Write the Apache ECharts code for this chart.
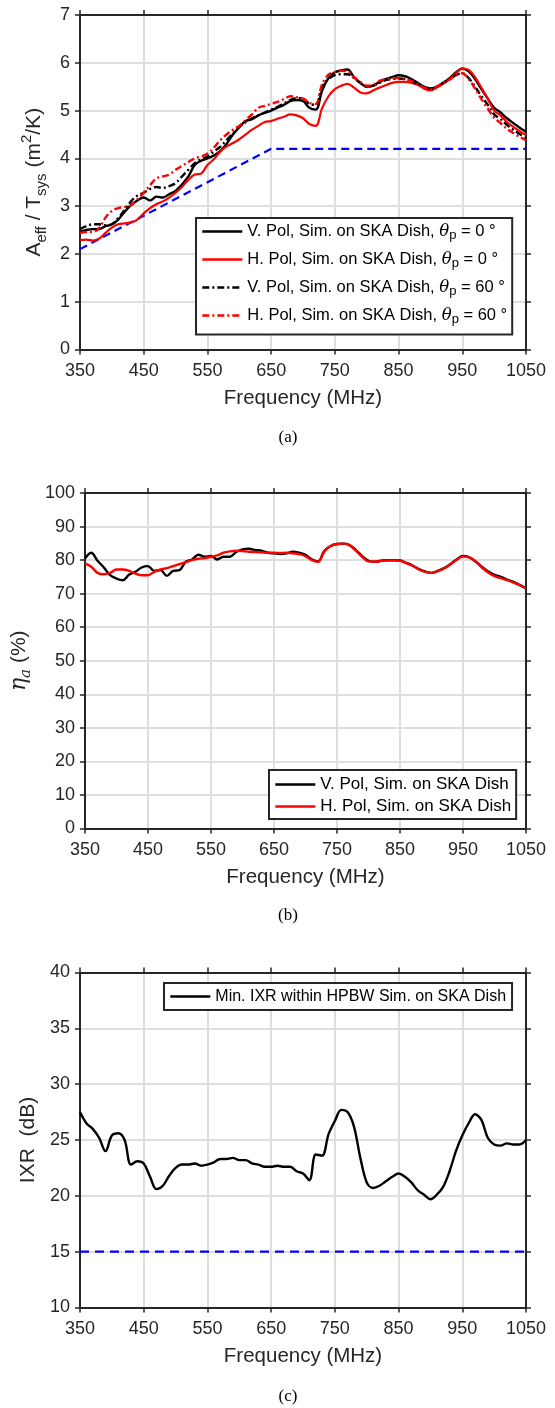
<!DOCTYPE html>
<html><head><meta charset="utf-8">
<script src="https://cdn.jsdelivr.net/npm/echarts@6/dist/echarts.min.js"></script>
<style>html,body{margin:0;padding:0;background:#fff}#c{width:555px;height:1408px}</style>
</head><body><div id="c"></div>
<script>
const freq = [350,360,370,380,390,400,410,420,430,440,450,460,470,480,490,500,510,520,530,540,550,560,570,580,590,600,610,620,630,640,650,660,670,680,690,700,710,720,730,740,750,760,770,780,790,800,810,820,830,840,850,860,870,880,890,900,910,920,930,940,950,960,970,980,990,1000,1010,1020,1030,1040,1050];

// (a) Aeff/Tsys (m^2/K)
const aV0 = [2.46,2.50,2.52,2.52,2.58,2.62,2.72,2.88,3.02,3.12,3.18,3.12,3.20,3.18,3.25,3.32,3.45,3.62,3.86,3.95,4.00,4.06,4.15,4.30,4.50,4.65,4.78,4.82,4.90,4.95,5.00,5.06,5.12,5.20,5.22,5.20,5.06,5.02,5.42,5.68,5.80,5.84,5.86,5.70,5.58,5.50,5.52,5.60,5.66,5.70,5.74,5.72,5.66,5.58,5.50,5.46,5.50,5.58,5.68,5.80,5.88,5.82,5.66,5.45,5.25,5.06,4.96,4.84,4.74,4.64,4.56];
const aH0 = [2.29,2.30,2.28,2.32,2.44,2.55,2.62,2.64,2.66,2.72,2.85,2.96,3.04,3.10,3.18,3.28,3.40,3.55,3.66,3.68,3.86,3.98,4.14,4.25,4.32,4.40,4.50,4.60,4.68,4.76,4.78,4.83,4.87,4.92,4.90,4.84,4.72,4.68,5.05,5.30,5.45,5.52,5.56,5.48,5.38,5.36,5.42,5.48,5.53,5.58,5.60,5.60,5.58,5.54,5.46,5.42,5.48,5.56,5.66,5.78,5.88,5.85,5.70,5.48,5.25,5.00,4.90,4.76,4.66,4.57,4.49];
const aV60 = [2.52,2.58,2.62,2.62,2.60,2.62,2.75,2.92,3.10,3.22,3.28,3.36,3.40,3.38,3.42,3.48,3.62,3.76,3.90,3.98,4.04,4.14,4.24,4.38,4.52,4.66,4.76,4.84,4.90,4.96,5.02,5.08,5.15,5.22,5.26,5.25,5.14,5.12,5.50,5.66,5.74,5.76,5.76,5.68,5.58,5.50,5.52,5.58,5.64,5.66,5.67,5.66,5.62,5.56,5.50,5.46,5.50,5.58,5.65,5.74,5.78,5.68,5.50,5.30,5.12,4.92,4.82,4.70,4.60,4.51,4.43];
const aH60 = [2.44,2.46,2.46,2.54,2.76,2.90,2.96,2.98,3.02,3.14,3.28,3.44,3.58,3.62,3.66,3.76,3.84,3.92,4.00,4.04,4.10,4.22,4.38,4.50,4.60,4.68,4.80,4.92,5.06,5.10,5.14,5.18,5.24,5.30,5.28,5.25,5.16,5.14,5.55,5.75,5.81,5.83,5.82,5.70,5.60,5.52,5.54,5.62,5.66,5.68,5.68,5.66,5.62,5.56,5.48,5.44,5.50,5.58,5.65,5.74,5.78,5.66,5.46,5.24,5.04,4.85,4.74,4.62,4.53,4.45,4.38];
const aReqF = [350,650,1050];
const aReqV = [2.1,4.2,4.2];

// (b) aperture efficiency (%)
const bV = [80.5,82.2,79.8,77.8,75.5,74.5,74.0,75.6,76.5,77.8,78.2,76.8,77.0,75.3,76.8,77.0,79.5,80.2,81.6,81.0,81.2,80.2,81.0,81.0,82.4,83.2,83.4,83.0,82.8,82.2,82.0,81.8,82.0,82.5,82.2,81.6,80.2,79.6,82.8,84.2,84.8,84.9,84.5,83.0,81.2,79.8,79.5,79.8,80.0,80.0,79.9,79.2,78.4,77.3,76.6,76.2,76.8,77.6,78.8,80.2,81.2,80.8,79.6,78.0,76.6,75.6,75.0,74.2,73.5,72.6,71.6];
const bH = [79.0,78.0,76.2,75.8,76.2,77.2,77.2,76.8,76.0,75.5,75.5,76.5,77.2,77.6,78.2,78.8,79.4,80.0,80.4,80.6,81.0,81.4,82.2,82.6,82.8,82.7,82.5,82.4,82.3,82.2,82.2,82.1,82.2,82.0,81.8,81.2,80.0,79.5,82.6,84.2,84.8,84.9,84.4,82.8,81.0,79.6,79.5,79.8,79.9,79.9,79.8,79.1,78.3,77.2,76.5,76.2,76.7,77.5,78.7,80.1,81.1,80.8,79.6,77.8,76.3,75.2,74.6,74.0,73.3,72.5,71.6];

// (c) IXR (dB)
const cIXR = [27.5,26.5,26.0,25.2,24.0,25.4,25.6,25.0,22.8,23.1,22.9,21.7,20.6,20.9,21.8,22.5,22.8,22.8,22.9,22.7,22.8,23.0,23.3,23.3,23.4,23.2,23.2,22.9,22.8,22.6,22.6,22.7,22.6,22.6,22.2,22.0,21.4,23.7,23.6,25.5,26.7,27.7,27.5,26.2,23.4,21.2,20.7,20.9,21.3,21.7,22.0,21.7,21.2,20.5,20.1,19.7,20.1,20.8,22.2,24.0,25.4,26.5,27.3,26.8,25.2,24.6,24.5,24.7,24.6,24.6,25.0];
const cReqF = [350,1050];
const cReqV = [15,15];

const AX = '#262626', GRID = '#dedede';
const FONT = '"Liberation Sans", Arial, Helvetica, sans-serif';
const pair = (xs, ys) => xs.map((x,i)=>[x, ys[i]]);

const grids = [
  {left:80, top:15, width:446, height:334.5},
  {left:80, top:493, width:446, height:335.5},
  {left:80, top:972.5, width:446, height:335}
];
const yr = [{min:0,max:7,interval:1},{min:0,max:100,interval:10},{min:10,max:40,interval:5}];

const xAxis = [], yAxis = [];
const tick = {show:true, inside:false, length:5, lineStyle:{color:AX, width:1.5}};
const aline = {show:true, onZero:false, lineStyle:{color:AX, width:2}};
const plain = v => String(v);
for (let g=0; g<3; g++){
  xAxis.push({gridIndex:g, type:'value', position:'bottom', min:350, max:1050, interval:100,
    axisLine:aline, axisTick:tick,
    axisLabel:{color:AX, fontSize:18, fontFamily:FONT, margin:13, formatter:plain},
    splitLine:{show:true, lineStyle:{color:GRID, width:2}},
    name:'Frequency (MHz)', nameLocation:'middle', nameGap:38,
    nameTextStyle:{color:AX, fontSize:20.5, fontFamily:FONT}});
  xAxis.push({gridIndex:g, type:'value', position:'top', min:350, max:1050, interval:100,
    axisLine:aline, axisTick:tick, axisLabel:{show:false}, splitLine:{show:false}});
}
const yNames = [
  '{n|A}{s|eff}{n| / T}{s|sys}{n| (m}{p|2}{n|/K)}',
  '{g|η}{ga|a}{n| (%)}',
  '{n|IXR  (dB)}'
];
const yRich = {
  n:{fontSize:21, fontFamily:FONT, color:AX, lineHeight:30},
  s:{fontSize:15, fontFamily:FONT, color:AX, lineHeight:15, verticalAlign:'bottom'},
  p:{fontSize:15, fontFamily:FONT, color:AX, lineHeight:15, verticalAlign:'top'},
  g:{fontSize:22, fontFamily:'"DejaVu Serif", serif', fontStyle:'italic', color:AX, lineHeight:30},
  ga:{fontSize:15, fontFamily:'"DejaVu Serif", serif', fontStyle:'italic', color:AX, lineHeight:15, verticalAlign:'bottom'}
};
const yGaps = [30, 33, 32];
for (let g=0; g<3; g++){
  yAxis.push(Object.assign({gridIndex:g, type:'value', position:'left',
    axisLine:aline, axisTick:tick,
    axisLabel:{color:AX, fontSize:18, fontFamily:FONT, margin:10, formatter:plain},
    splitLine:{show:true, lineStyle:{color:GRID, width:2}},
    name:yNames[g], nameLocation:'middle', nameRotate:90, nameGap:yGaps[g],
    nameTextStyle:{rich:yRich}}, yr[g]));
  yAxis.push(Object.assign({gridIndex:g, type:'value', position:'right',
    axisLine:aline, axisTick:tick, axisLabel:{show:false}, splitLine:{show:false}}, yr[g]));
}

const nV0='V. Pol, Sim. on SKA Dish, θp = 0°', nH0='H. Pol, Sim. on SKA Dish, θp = 0°',
      nV60='V. Pol, Sim. on SKA Dish, θp = 60°', nH60='H. Pol, Sim. on SKA Dish, θp = 60°';
const legFmt = {};
legFmt[nV0]='{t|V. Pol, Sim. on SKA Dish, }{th|θ}{sb|p}{t| = 0 °}';
legFmt[nH0]='{t|H. Pol, Sim. on SKA Dish, }{th|θ}{sb|p}{t| = 0 °}';
legFmt[nV60]='{t|V. Pol, Sim. on SKA Dish, }{th|θ}{sb|p}{t| = 60 °}';
legFmt[nH60]='{t|H. Pol, Sim. on SKA Dish, }{th|θ}{sb|p}{t| = 60 °}';
const legRich = {
  t:{fontSize:16.5, fontFamily:FONT, color:'#000', lineHeight:20},
  th:{fontSize:16.5, fontFamily:'"DejaVu Serif", serif', fontStyle:'italic', color:'#000', lineHeight:20},
  sb:{fontSize:13, fontFamily:FONT, color:'#000', lineHeight:12, verticalAlign:'bottom'}
};

const nBV='V. Pol, Sim. on SKA Dish', nBH='H. Pol, Sim. on SKA Dish';
const nC='Min. IXR within HPBW Sim. on SKA Dish';

const ln = (name, xi, data, color, width, type, z) => ({
  name, type:'line', xAxisIndex:xi, yAxisIndex:xi, data, symbol:'none', smooth:0.35,
  lineStyle:{color, width, type}, itemStyle:{color}, z:z||2, silent:true
});

const series = [
  ln('reqA', 0, pair(aReqF,aReqV), '#0000ff', 2.2, [8,5], 2),
  ln(nV0, 0, pair(freq,aV0), '#000', 2.4, 'solid', 3),
  ln(nH0, 0, pair(freq,aH0), '#ff0000', 2.2, 'solid', 3),
  ln(nV60, 0, pair(freq,aV60), '#000', 2.4, [7,3,2,3], 4),
  ln(nH60, 0, pair(freq,aH60), '#ff0000', 2.4, [7,3,2,3], 4),
  ln(nBV, 2, pair(freq,bV), '#000', 2.4, 'solid', 3),
  ln(nBH, 2, pair(freq,bH), '#ff0000', 2.4, 'solid', 4),
  ln('reqC', 4, pair(cReqF,cReqV), '#0000ff', 2.4, [9,6], 3),
  ln(nC, 4, pair(freq,cIXR), '#000', 2.4, 'solid', 4)
];
series[0].smooth = false; series[7].smooth = false;

const legBase = {orient:'vertical', borderColor:AX, borderWidth:2, backgroundColor:'#fff',
  itemWidth:40, itemHeight:14, selectedMode:false, z:10,
  itemStyle:{opacity:0}, lineStyle:{width:2.6}};
const legend = [
  Object.assign({}, legBase, {data:[nV0,nH0,nV60,nH60], left:196, top:218, itemGap:9.5, padding:[5,5,9,5],
    formatter:n=>legFmt[n], textStyle:{rich:legRich}}),
  Object.assign({}, legBase, {data:[nBV,nBH], left:269, top:770, itemGap:5, padding:[6,5,4,5],
    textStyle:{fontSize:17, fontFamily:FONT, color:'#000', lineHeight:17}}),
  Object.assign({}, legBase, {data:[nC], left:164, top:983, padding:[4,6,4,5],
    textStyle:{fontSize:16, fontFamily:FONT, color:'#000', lineHeight:19}})
];

const capStyle = {font:'17px "Liberation Serif", "Times New Roman", serif', fill:'#000', textAlign:'center', textVerticalAlign:'middle'};
const graphic = [
  {type:'text', x:288, y:438, style:Object.assign({text:'(a)'}, capStyle)},
  {type:'text', x:288, y:916, style:Object.assign({text:'(b)'}, capStyle)},
  {type:'text', x:288, y:1397, style:Object.assign({text:'(c)'}, capStyle)}
];

const chart = echarts.init(document.getElementById('c'), null, {renderer:'canvas'});
chart.setOption({animation:false, grid:grids, xAxis, yAxis, legend, series, graphic});
</script></body></html>
